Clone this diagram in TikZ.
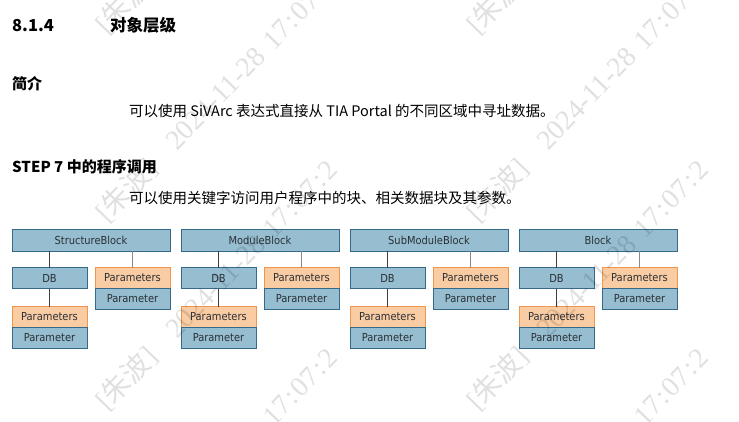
\documentclass[tikz,border=0pt]{standalone}
\usepackage{fontspec}
\setmainfont{Noto Sans CJK SC}
\newfontfamily\boxfont{DejaVu Sans Condensed}
\newfontfamily\wmcjk{Noto Sans CJK SC}
\newfontfamily\wmlatin{Liberation Serif}
\usetikzlibrary{positioning}
\definecolor{hierBlue}{HTML}{96BED0}
\definecolor{hierBlueLine}{HTML}{35698A}
\definecolor{hierOrange}{HTML}{F9CCA3}
\definecolor{hierOrangeLine}{HTML}{F0954A}
\definecolor{hierText}{HTML}{2B3036}
\definecolor{hierLink}{HTML}{3D3D3D}
\definecolor{hierLinkLight}{HTML}{8A8A8A}
\tikzset{
  hier box/.style={draw=hierBlueLine, fill=hierBlue, line width=0.9pt, inner sep=0pt, outer sep=0pt, font=\boxfont\fontsize{11}{12}\selectfont, text=hierText},
  hier top/.style={hier box, minimum width=158pt, minimum height=22pt, anchor=north west},
  hier small/.style={hier box, minimum width=75pt, minimum height=21pt},
  hier params/.style={hier small, draw=hierOrangeLine, fill=hierOrange},
  hier link/.style={draw=hierLink, line width=1pt},
  hier link light/.style={draw=hierLinkLight, line width=1.3pt},
  hier head/.style={font=\bfseries\fontsize{16.5}{18}\selectfont, anchor=base west, inner sep=0pt},
  hier sub/.style={font=\bfseries\fontsize{15}{17}\selectfont, anchor=base west, inner sep=0pt},
  hier body/.style={font=\fontsize{14.5}{17}\selectfont, anchor=base west, inner sep=0pt},
  hier mark/.style={text=black!12, font=\wmlatin\fontsize{28}{30}\selectfont, rotate=46, anchor=base west, inner sep=0pt},
}

\begin{document}
\begin{tikzpicture}[x=1pt,y=-1pt]
  \useasboundingbox (0,0) rectangle (739,422);
  % headings and text
  \node[hier head] (secnum) at (12,32) {8.1.4};
  \node[hier head] (sectitle) at (110,32) {对象层级};
  \node[hier sub] (introhead) at (12,90) {简介};
  \node[hier body] (introtext) at (129,117) {可以使用 SiVArc 表达式直接从 TIA Portal 的不同区域中寻址数据。};
  \node[hier sub] (stephead) at (12,173) {STEP 7 中的程序调用};
  \node[hier body] (steptext) at (129,204) {可以使用关键字访问用户程序中的块、相关数据块及其参数。};
  % the four block trees
  \foreach \i/\blk in {0/StructureBlock,1/ModuleBlock,2/SubModuleBlock,3/Block}{
    \pgfmathsetmacro\gx{12+169*\i}
    \node[hier top] (top\i) at (\gx,229) {\blk};
    \node[hier small, anchor=north west] (db\i) at (\gx,267.5) {DB};
    \node[hier params, anchor=north east] (par\i) at (\gx+158,267.5) {Parameters};
    \node[hier small, below=0pt of par\i] (parval\i) {Parameter};
    \node[hier params, anchor=north west] (dbpar\i) at (\gx,306.5) {Parameters};
    \node[hier small, below=0pt of dbpar\i] (dbparval\i) {Parameter};
    \draw[hier link] (top\i.south -| db\i.north) -- (db\i.north);
    \draw[hier link light] (top\i.south -| par\i.north) -- (par\i.north);
    \draw[hier link] (db\i.south) -- (dbpar\i.north);
  }
  % watermark
  \begin{scope}[blend mode=multiply]
    \clip (0,0) rectangle (739,422);
    \foreach \cx [count=\ci] in {0,371}{
      \foreach \cy [count=\ri] in {-152,36,224,412,600}{
        \node[hier mark] (mark\ci-\ri) at (107+\cx,\cy) {[{\wmcjk 朱波}]\hspace{26pt}2024-11-28\hspace{10pt}17\kern2pt:\kern2pt07\kern2pt:\kern2pt2};
      }
    }
  \end{scope}
\end{tikzpicture}
\end{document}
